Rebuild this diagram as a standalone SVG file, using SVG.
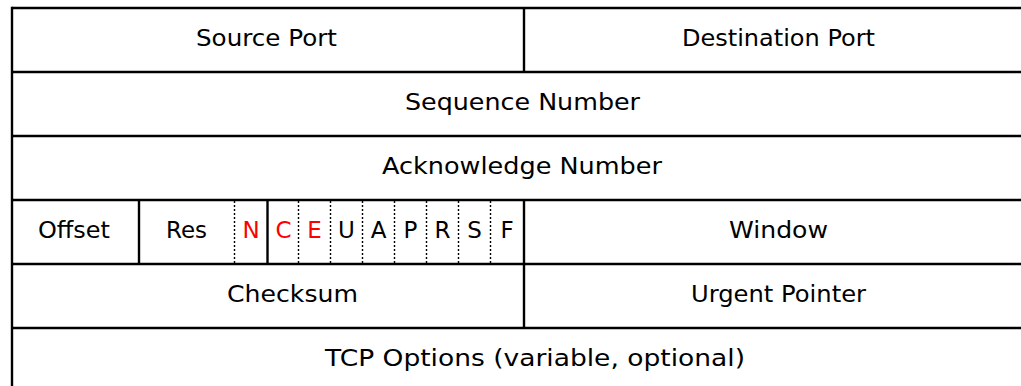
<svg xmlns="http://www.w3.org/2000/svg" width="1021" height="386" viewBox="0 0 1021 386">
  <style>
    .grid { stroke: #000; stroke-width: 2.4; fill: none; }
    .dot { stroke: #000; stroke-width: 1.4; stroke-dasharray: 2 2; fill: none; }
    text { font-family: "DejaVu Sans", "Liberation Sans", sans-serif; font-size: 23px; text-anchor: middle; fill: #000; }
    .flag-ecn { fill: #ff0000; }
  </style>
  <rect width="1021" height="386" fill="#fff"/>

  <!-- header grid -->
  <g id="connectors">
    <line class="grid" x1="12" y1="8" x2="1021" y2="8"/>
    <line class="grid" x1="12" y1="72" x2="1021" y2="72"/>
    <line class="grid" x1="12" y1="136" x2="1021" y2="136"/>
    <line class="grid" x1="12" y1="200" x2="1021" y2="200"/>
    <line class="grid" x1="12" y1="264" x2="1021" y2="264"/>
    <line class="grid" x1="12" y1="328" x2="1021" y2="328"/>
    <line class="grid" x1="12" y1="6.8" x2="12" y2="386"/>
    <line class="grid" x1="524" y1="8" x2="524" y2="72"/>
    <line class="grid" x1="524" y1="200" x2="524" y2="328"/>
    <line class="grid" x1="139" y1="200" x2="139" y2="264"/>
    <line class="grid" x1="267.5" y1="200" x2="267.5" y2="264"/>
    <line class="dot" x1="234.5" y1="201" x2="234.5" y2="263"/>
    <line class="dot" x1="298.5" y1="201" x2="298.5" y2="263"/>
    <line class="dot" x1="330.5" y1="201" x2="330.5" y2="263"/>
    <line class="dot" x1="362.5" y1="201" x2="362.5" y2="263"/>
    <line class="dot" x1="394.5" y1="201" x2="394.5" y2="263"/>
    <line class="dot" x1="426.5" y1="201" x2="426.5" y2="263"/>
    <line class="dot" x1="458.5" y1="201" x2="458.5" y2="263"/>
    <line class="dot" x1="490.5" y1="201" x2="490.5" y2="263"/>
  </g>

  <g id="source-port"><text x="266.5" y="45.5" textLength="141" lengthAdjust="spacingAndGlyphs">Source Port</text></g>
  <g id="destination-port"><text x="778.5" y="45.5" textLength="193" lengthAdjust="spacingAndGlyphs">Destination Port</text></g>
  <g id="sequence-number"><text x="522.5" y="109.5" textLength="235" lengthAdjust="spacingAndGlyphs">Sequence Number</text></g>
  <g id="acknowledge-number"><text x="522" y="173.5" textLength="280" lengthAdjust="spacingAndGlyphs">Acknowledge Number</text></g>
  <g id="offset"><text x="74" y="237.5" textLength="72" lengthAdjust="spacingAndGlyphs">Offset</text></g>
  <g id="res"><text x="186.5" y="237.5" textLength="41" lengthAdjust="spacingAndGlyphs">Res</text></g>
  <g id="flag-n"><text class="flag-ecn" x="251" y="237.5">N</text></g>
  <g id="flag-c"><text class="flag-ecn" x="283.5" y="237.5">C</text></g>
  <g id="flag-e"><text class="flag-ecn" x="314.5" y="237.5">E</text></g>
  <g id="flag-u"><text x="346.5" y="237.5">U</text></g>
  <g id="flag-a"><text x="378.5" y="237.5">A</text></g>
  <g id="flag-p"><text x="410.5" y="237.5">P</text></g>
  <g id="flag-r"><text x="442.5" y="237.5">R</text></g>
  <g id="flag-s"><text x="474.5" y="237.5">S</text></g>
  <g id="flag-f"><text x="507" y="237.5">F</text></g>
  <g id="window"><text x="778.5" y="237.5" textLength="99" lengthAdjust="spacingAndGlyphs">Window</text></g>
  <g id="checksum"><text x="292.5" y="301.5" textLength="131" lengthAdjust="spacingAndGlyphs">Checksum</text></g>
  <g id="urgent-pointer"><text x="778.5" y="301.5" textLength="175" lengthAdjust="spacingAndGlyphs">Urgent Pointer</text></g>
  <g id="tcp-options"><text x="535" y="365.5" textLength="420" lengthAdjust="spacingAndGlyphs">TCP Options (variable, optional)</text></g>
</svg>
